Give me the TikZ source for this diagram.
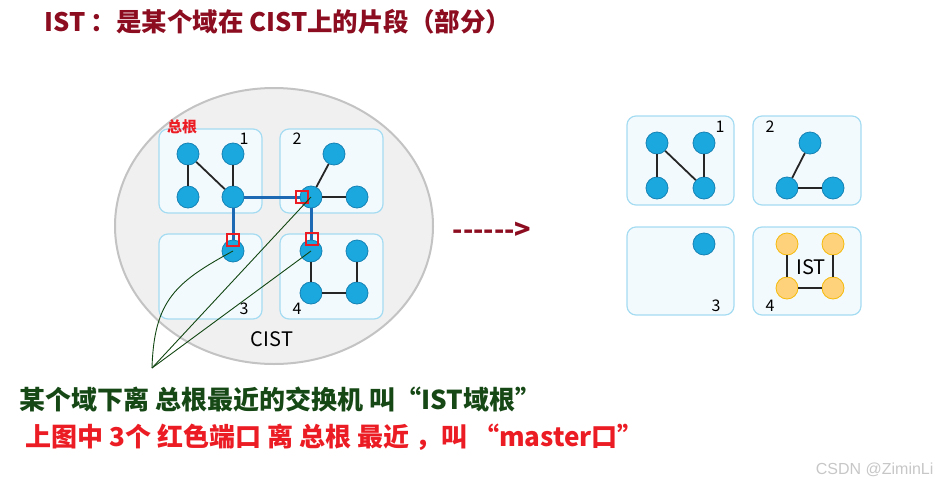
\documentclass[tikz,border=0pt]{standalone}
\usepackage{fontspec}
\setmainfont{Noto Sans CJK SC}
\newfontfamily\marksans{Liberation Sans}
\usetikzlibrary{positioning}

\definecolor{titlered}{RGB}{140,12,32}
\definecolor{notegreen}{RGB}{22,72,22}
\definecolor{curvegreen}{RGB}{18,70,18}
\definecolor{notered}{RGB}{236,28,36}
\definecolor{cistgray}{RGB}{240,240,240}
\definecolor{cistedge}{RGB}{195,195,195}
\definecolor{boxfill}{RGB}{243,250,253}
\definecolor{boxedge}{RGB}{165,220,242}
\definecolor{swfill}{RGB}{26,168,222}
\definecolor{swedge}{RGB}{22,130,180}
\definecolor{istfill}{RGB}{253,210,122}
\definecolor{istedge}{RGB}{245,186,10}
\definecolor{trunk}{RGB}{30,105,180}

\tikzset{
    domainbox/.style={draw=boxedge, fill=boxfill, line width=1.2pt, rounded corners=9pt},
    sw/.style={circle, minimum size=22pt, inner sep=0pt, fill=swfill, draw=swedge, line width=0.8pt},
    istsw/.style={sw, fill=istfill, draw=istedge},
    link/.style={line width=1.8pt, color=black!85},
    trunklink/.style={line width=3pt, color=trunk},
    port/.style={draw=notered, line width=1.3pt, minimum size=12pt, inner sep=0pt},
    boxnum/.style={font=\fontsize{16}{16}\selectfont},
    bigtext/.style={font=\fontsize{25.5}{25.5}\selectfont\bfseries, anchor=west},
    notetext/.style={font=\fontsize{26}{26}\selectfont\bfseries, anchor=west},
    pointer/.style={curvegreen, line width=0.9pt}
}

\begin{document}
\begin{tikzpicture}[x=1pt, y=-1pt]
    \useasboundingbox (0,0) rectangle (938,490);

    \node[bigtext, text=titlered] (title) at (41,22) {IST\kern0.2em：是某个域在 CIST上的片段（部分）};

    % CIST
    \draw[fill=cistgray, draw=cistedge, line width=2pt] (274,226) ellipse (159 and 138);
    \draw[domainbox] (159,129) rectangle (262,213);
    \draw[domainbox] (280,129) rectangle (383,213);
    \draw[domainbox] (159,234) rectangle (262,319);
    \draw[domainbox] (280,234) rectangle (383,319);

    \node[font=\fontsize{15}{15}\selectfont\bfseries, text=notered] (root) at (182,127) {总根};
    \node[boxnum] (n1) at (244,139) {1};
    \node[boxnum] (n2) at (297,139) {2};
    \node[boxnum] (n3) at (244,309) {3};
    \node[boxnum] (n4) at (297,309) {4};
    \node[font=\fontsize{20}{20}\selectfont] (cist) at (272,339) {CIST};

    \node[sw] (a1) at (188,154) {};
    \node[sw] (a2) at (233,154) {};
    \node[sw] (a3) at (188,197) {};
    \node[sw] (a4) at (233,197) {};
    \node[sw] (b1) at (334,154) {};
    \node[sw] (b2) at (311,197) {};
    \node[sw] (b3) at (357,197) {};
    \node[sw] (c1) at (233,251) {};
    \node[sw] (d1) at (311,251) {};
    \node[sw] (d2) at (357,251) {};
    \node[sw] (d3) at (311,293) {};
    \node[sw] (d4) at (357,293) {};

    \draw[link] (a1) -- (a3);
    \draw[link] (a1) -- (a4);
    \draw[link] (a2) -- (a4);
    \draw[link] (b2) -- (b1);
    \draw[link] (b2) -- (b3);
    \draw[link] (d1) -- (d3);
    \draw[link] (d3) -- (d4);
    \draw[link] (d4) -- (d2);

    \draw[trunklink] (a4) -- (b2);
    \draw[trunklink] (a4) -- (c1);
    \draw[trunklink] (b2) -- (d1);

    \node[port] (p1) at (302,197) {};
    \node[port] (p2) at (233,240) {};
    \node[port] (p3) at (312,239) {};

    % pointers to the IST roots
    \coordinate (tip) at (152,368);
    \draw[pointer] (tip) .. controls (154,300) and (176,282) .. (c1.center);
    \draw[pointer] (tip) -- (b2.center);
    \draw[pointer] (tip) -- (d1.center);

    \node[font=\fontsize{27}{27}\selectfont\bfseries, text=titlered] (arrow) at (492,231) {-{}-{}-{}-{}-{}-{}>};

    % domains cut out
    \draw[domainbox] (627,116) rectangle (734,205);
    \draw[domainbox] (753,116) rectangle (861,205);
    \draw[domainbox] (627,227) rectangle (734,315);
    \draw[domainbox] (753,227) rectangle (861,315);

    \node[boxnum] (m1) at (720,127) {1};
    \node[boxnum] (m2) at (770,127) {2};
    \node[boxnum] (m3) at (716,306) {3};
    \node[boxnum] (m4) at (770,306) {4};

    \node[sw] (r1) at (657,143) {};
    \node[sw] (r2) at (704,143) {};
    \node[sw] (r3) at (657,188) {};
    \node[sw] (r4) at (704,188) {};
    \node[sw] (s1) at (810,143) {};
    \node[sw] (s2) at (787,188) {};
    \node[sw] (s3) at (833,188) {};
    \node[sw] (t1) at (704,244) {};
    \node[istsw] (u1) at (787,244) {};
    \node[istsw] (u2) at (833,244) {};
    \node[istsw] (u3) at (787,288) {};
    \node[istsw] (u4) at (833,288) {};
    \node[font=\fontsize{20}{20}\selectfont] (ist) at (811,267) {IST};

    \draw[link] (r1) -- (r3);
    \draw[link] (r1) -- (r4);
    \draw[link] (r2) -- (r4);
    \draw[link] (s2) -- (s1);
    \draw[link] (s2) -- (s3);
    \draw[link] (u1) -- (u3);
    \draw[link] (u3) -- (u4);
    \draw[link] (u4) -- (u2);

    \node[notetext, text=notegreen] (istroot) at (16,399) {某个域下离 总根最近的交换机 叫“IST域根”};
    \node[notetext, text=notered] (master) at (22,437) {上图中 3个 红色端口 离 总根 最近 ，叫 “master口”};

    \node[font=\marksans\fontsize{16}{16}\selectfont, text=black!22, anchor=east] (mark) at (937,470) {CSDN @ZiminLi};
\end{tikzpicture}
\end{document}
